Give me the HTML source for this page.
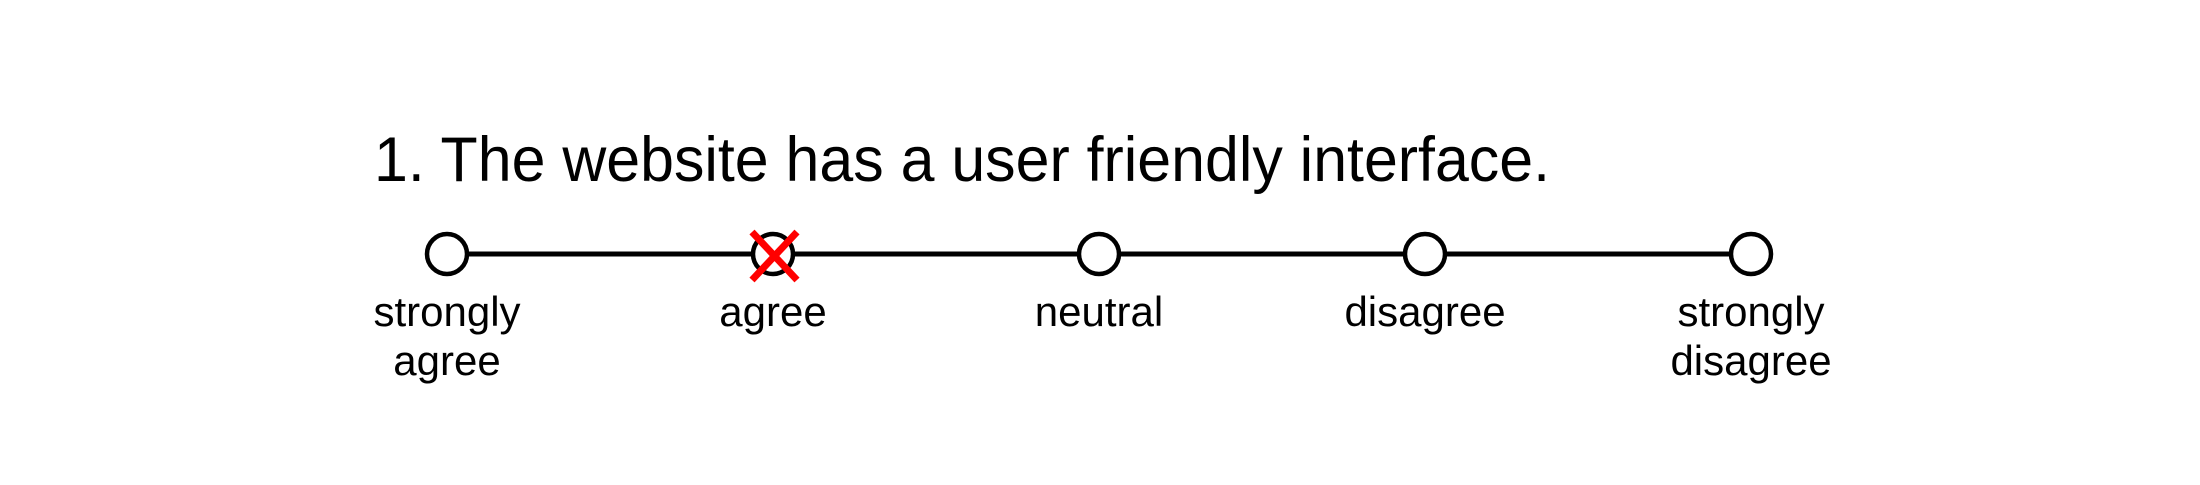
<!DOCTYPE html>
<html><head><style>html,body{margin:0;padding:0;background:#fff;}</style></head>
<body>
<svg width="2200" height="480" xmlns="http://www.w3.org/2000/svg" font-family="Liberation Sans, sans-serif">
<rect width="2200" height="480" fill="#fff"/>
<text x="374" y="181" font-size="63" textLength="1176" lengthAdjust="spacingAndGlyphs">1. The website has a user friendly interface.</text>
<line x1="447" y1="254" x2="1751" y2="254" stroke="#000" stroke-width="5"/>
<g fill="#fff" stroke="#000" stroke-width="4.5">
<circle cx="447" cy="254" r="20"/>
<circle cx="773" cy="254" r="20"/>
<circle cx="1099" cy="254" r="20"/>
<circle cx="1425" cy="254" r="20"/>
<circle cx="1751" cy="254" r="20"/>
</g>
<g stroke="#f00" stroke-width="7">
<line x1="752" y1="232" x2="797" y2="280"/>
<line x1="797" y1="232" x2="752" y2="280"/>
</g>
<g font-size="42" text-anchor="middle" fill="#000">
<text x="447" y="326">strongly</text>
<text x="447" y="375">agree</text>
<text x="773" y="326">agree</text>
<text x="1099" y="326">neutral</text>
<text x="1425" y="326">disagree</text>
<text x="1751" y="326">strongly</text>
<text x="1751" y="375">disagree</text>
</g>
</svg>
</body></html>
